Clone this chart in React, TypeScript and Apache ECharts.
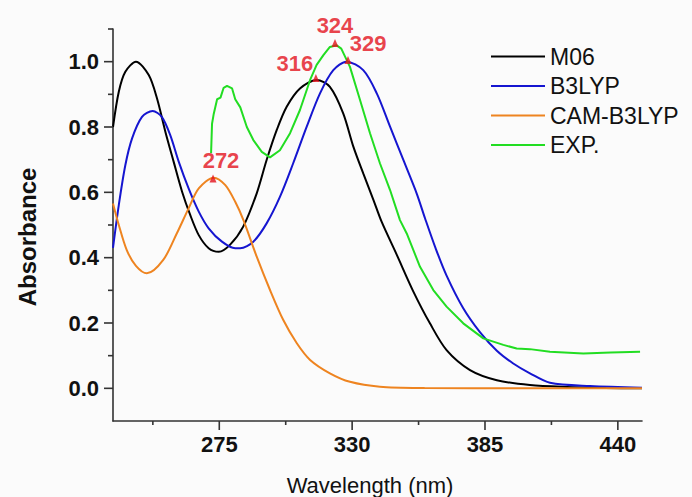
import React, { useEffect, useRef } from "react";
import * as echarts from "echarts";

// ---- data ----
const m06Wl = [231, 233.4, 236.1, 240.5, 245.8, 249.2, 252.7, 256.1, 259.6, 263.0, 266.5, 270.6, 274.8, 279.4, 284.9, 290.5, 294.6, 298.8, 302.9, 308.4, 315.3, 320.8, 326.3, 330.5, 334.6, 338.8, 342.2, 348.4, 355.3, 362.2, 369.1, 378.8, 389.9, 403.6, 418.8, 435, 450];
const m06Abs = [0.80, 0.908, 0.969, 1.0, 0.959, 0.888, 0.785, 0.694, 0.602, 0.530, 0.469, 0.429, 0.418, 0.439, 0.495, 0.597, 0.699, 0.791, 0.862, 0.918, 0.944, 0.923, 0.842, 0.740, 0.658, 0.577, 0.51, 0.41, 0.297, 0.199, 0.117, 0.056, 0.025, 0.010, 0.004, 0.001, 0.0];

const b3lypWl = [231, 233.4, 236.1, 238.9, 243.0, 247.4, 251.2, 254.7, 258.2, 262.3, 266.5, 270.6, 276.1, 281.6, 283.6, 289.1, 294.6, 300.1, 305.6, 311.2, 316.7, 322.2, 327.7, 334.6, 340.2, 345.7, 351.2, 356.7, 360.2, 364.5, 369.1, 376.0, 382.9, 389.9, 396.7, 403.6, 411.9, 428.5, 450];
const b3lypAbs = [0.43, 0.561, 0.683, 0.765, 0.831, 0.849, 0.831, 0.775, 0.694, 0.612, 0.541, 0.490, 0.449, 0.429, 0.429, 0.449, 0.505, 0.586, 0.689, 0.801, 0.903, 0.974, 1.0, 0.974, 0.903, 0.801, 0.699, 0.597, 0.52, 0.43, 0.345, 0.245, 0.172, 0.115, 0.076, 0.046, 0.017, 0.007, 0.002];

const camWl = [231, 233.4, 236.7, 240.5, 245.0, 251.8, 257.4, 262.3, 266.5, 272.7, 277.5, 281.6, 285.0, 290.5, 296.0, 301.5, 307.1, 312.6, 320.8, 329.1, 341.5, 360, 400, 450];
const camAbs = [0.566, 0.50, 0.423, 0.375, 0.352, 0.393, 0.474, 0.551, 0.612, 0.645, 0.622, 0.571, 0.515, 0.403, 0.301, 0.209, 0.138, 0.087, 0.046, 0.020, 0.005, 0.001, 0, 0];

const expWl = [271.6, 272.0, 272.7, 274.1, 275.5, 276.8, 278.2, 280.3, 281.6, 283.7, 286.4, 289.1, 292.6, 296.0, 300.1, 304.3, 308.4, 312.6, 315.3, 318.1, 320.8, 323.6, 325.5, 329.1, 333.3, 337.4, 341.5, 345.7, 349.8, 352.6, 358.1, 363.6, 369.1, 376.0, 384.3, 392.6, 398.1, 403.6, 411.9, 425.7, 437, 449.2];
const expAbs = [0.72, 0.81, 0.84, 0.885, 0.89, 0.92, 0.926, 0.918, 0.885, 0.86, 0.80, 0.76, 0.724, 0.707, 0.729, 0.781, 0.852, 0.944, 0.99, 1.02, 1.045, 1.05, 1.04, 0.984, 0.882, 0.781, 0.689, 0.607, 0.515, 0.474, 0.372, 0.301, 0.250, 0.199, 0.153, 0.133, 0.122, 0.12, 0.112, 0.107, 0.11, 0.112];

const peakWl = [272.4, 315.0, 322.9, 328.3];
const peakAbs = [0.642, 0.95, 1.057, 1.005];
const peakLabels = ["272", "316", "324", "329"];

const seriesNames = ["M06", "B3LYP", "CAM-B3LYP", "EXP."];
const xTickValues = [275, 330, 385, 440];
const xMinorTicks = [247.5, 302.5, 357.5, 412.5];
const yTickValues = [0, 0.2, 0.4, 0.6, 0.8, 1.0];
const yMinorTicks = [0.1, 0.3, 0.5, 0.7, 0.9, 1.1];

const X_MIN = 231;
const X_MAX = 450;
const Y_MIN = -0.1;
const Y_MAX = 1.1;

const zip = (a: number[], b: number[]) => a.map((v, i) => [v, b[i]]);

const FONT = '"Liberation Sans", Arial, sans-serif';
const AXIS_COLOR = "#333";

export default function App() {
  const ref = useRef<HTMLDivElement>(null);
  useEffect(() => {
    document.body.style.margin = "0";
    if (!ref.current) return;
    const chart = echarts.init(ref.current, undefined, { renderer: "svg" });
    const colors = ["#000000", "#1515D0", "#EE8420", "#22DD22"];
    const datasets = [zip(m06Wl, m06Abs), zip(b3lypWl, b3lypAbs), zip(camWl, camAbs), zip(expWl, expAbs)];
    const labelOffsets = [[8, -18], [-21, -15], [0, -18], [20, -17]];
    const axisLineStyle = { color: AXIS_COLOR, width: 1.6 };
    const red = "#E3121B";
    const titles = [
      {
        id: "yname", type: "text", x: 27, y: 237, rotation: Math.PI / 2,
        style: { text: "Absorbance", fontSize: 24, fontWeight: "bold", fontFamily: FONT, fill: "#111", align: "center", verticalAlign: "middle" },
      },
      {
        id: "xname", type: "text", x: 370, y: 485,
        style: { text: "Wavelength (nm)", fontSize: 22, fontFamily: FONT, fill: "#111", align: "center", verticalAlign: "middle" },
      },
    ];
    const option: any = {
      animation: false,
      backgroundColor: "#fbfbfb",
      grid: { left: 113, right: 50, top: 29, bottom: 76 },
      xAxis: {
        type: "value", min: X_MIN, max: X_MAX,
        axisLine: { show: true, onZero: false, lineStyle: axisLineStyle },
        axisTick: { show: false },
        axisLabel: { customValues: xTickValues, margin: 12, fontSize: 22, fontWeight: "bold", color: "#111", fontFamily: FONT },
        splitLine: { show: false },
      },
      yAxis: {
        type: "value", min: Y_MIN, max: Y_MAX,
        axisLine: { show: true, onZero: false, lineStyle: axisLineStyle },
        axisTick: { show: false },
        axisLabel: {
          customValues: yTickValues, margin: 14, fontSize: 22, fontWeight: "bold", color: "#111", fontFamily: FONT,
          formatter: (v: number) => v.toFixed(1),
        },
        splitLine: { show: false },
      },
      legend: {
        data: seriesNames,
        orient: "vertical",
        left: 486,
        top: 40,
        icon: "rect",
        itemWidth: 54,
        itemHeight: 2,
        itemGap: 6.5,
        textStyle: { fontSize: 23, fontFamily: FONT, color: "#111", lineHeight: 23 },
      },
      graphic: titles,
      series: [
        ...seriesNames.map((name, i) => ({
          name,
          type: "line",
          data: datasets[i],
          symbol: "none",
          showSymbol: false,
          smooth: i === 3 ? false : 0.3,
          clip: true,
          lineStyle: { color: colors[i], width: 2 },
          itemStyle: { color: colors[i] },
          z: i === 3 ? 3 : 2,
        })),
        {
          name: "peaks",
          type: "scatter",
          symbol: "triangle",
          symbolSize: [7, 8],
          itemStyle: { color: red },
          z: 5,
          data: peakWl.map((w, i) => ({
            value: [w, peakAbs[i]],
            label: {
              show: true,
              formatter: peakLabels[i],
              position: "inside",
              offset: labelOffsets[i],
              color: red,
              fontSize: 22,
              fontWeight: "bold",
              fontFamily: FONT,
            },
          })),
        },
      ],
    };
    chart.setOption(option);

    // axis ticks placed through the chart's own scales
    const tickLines: any[] = [];
    const addX = (v: number, len: number) => {
      const p = chart.convertToPixel({ gridIndex: 0 }, [v, Y_MIN]) as number[];
      tickLines.push({
        type: "line", z: 100,
        shape: { x1: p[0], y1: p[1], x2: p[0], y2: p[1] + len },
        style: { stroke: AXIS_COLOR, lineWidth: 1.6 },
      });
    };
    const addY = (v: number, len: number) => {
      const p = chart.convertToPixel({ gridIndex: 0 }, [X_MIN, v]) as number[];
      tickLines.push({
        type: "line", z: 100,
        shape: { x1: p[0] - len, y1: p[1], x2: p[0], y2: p[1] },
        style: { stroke: AXIS_COLOR, lineWidth: 1.6 },
      });
    };
    xTickValues.forEach((v) => addX(v, 9));
    xMinorTicks.forEach((v) => addX(v, 4));
    yTickValues.forEach((v) => addY(v, 9));
    yMinorTicks.forEach((v) => addY(v, 5));
    chart.setOption({ graphic: [...titles, ...tickLines] });

    return () => chart.dispose();
  }, []);
  return <div ref={ref} style={{ position: "absolute", left: 0, top: 0, width: 692, height: 497 }} />;
}
